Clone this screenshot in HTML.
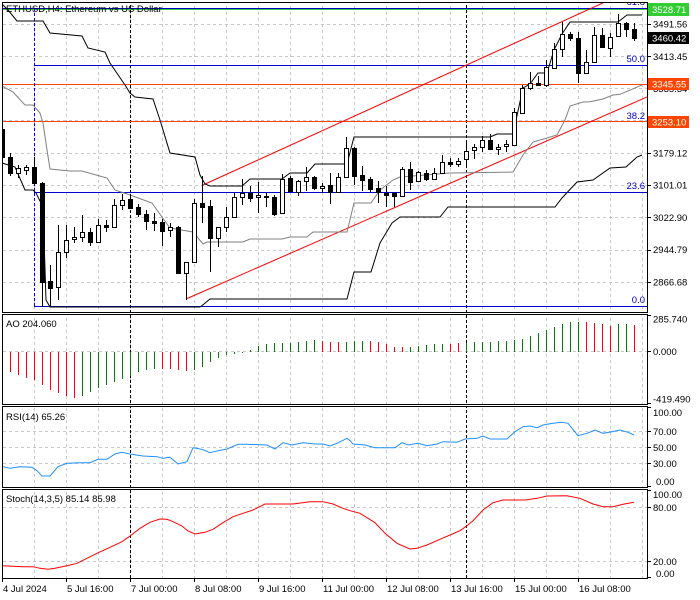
<!DOCTYPE html>
<html><head><meta charset="utf-8"><style>
html,body{margin:0;padding:0;background:#fff;}
svg{display:block;font-family:"Liberation Sans",sans-serif;font-size:9.5px;}
</style></head><body>
<svg width="700" height="600" viewBox="0 0 700 600" xmlns="http://www.w3.org/2000/svg">
<defs>
<clipPath id="cm"><rect x="3" y="3" width="644" height="309"/></clipPath>
<clipPath id="cp"><rect x="3" y="3" width="644" height="309"/><rect x="3" y="315" width="644" height="89"/><rect x="3" y="407" width="644" height="80"/><rect x="3" y="490" width="644" height="88"/></clipPath>
</defs>
<rect width="700" height="600" fill="#fff"/>
<g clip-path="url(#cp)" shape-rendering="crispEdges" fill="none">
<path stroke="#c8c8c8" stroke-dasharray="3,3" d="M34.5 0V600M66.5 0V600M98.5 0V600M130.5 0V600M162.5 0V600M194.5 0V600M226.5 0V600M258.5 0V600M290.5 0V600M322.5 0V600M354.5 0V600M386.5 0V600M418.5 0V600M450.5 0V600M482.5 0V600M514.5 0V600M546.5 0V600M578.5 0V600M610.5 0V600M642.5 0V600"/>
<path stroke="#c8c8c8" stroke-dasharray="3,3" d="M3 24.5H647M3 56.5H647M3 88.5H647M3 120.5H647M3 153.5H647M3 185.5H647M3 217.5H647M3 250.5H647M3 282.5H647M3 351.5H647M3 431.5H647M3 447.5H647M3 463.5H647M3 507.5H647M3 561.5H647"/>
<path stroke="#000" stroke-dasharray="3,2" d="M130.5 0V600M466.5 0V600"/>
</g>
<g clip-path="url(#cm)" fill="none">
<path stroke="#0000cc" stroke-width="1" shape-rendering="crispEdges" d="M2 8.5H647M34 65.5H647M34 121.5H647M34 192.5H647M34 306.5H647"/>
<path stroke="#32cd32" stroke-width="1" shape-rendering="crispEdges" d="M2 9.5H647"/>
<path stroke="#ff4500" stroke-width="1" shape-rendering="crispEdges" d="M2 84.5H647M2 121.5H647"/>
<path stroke="#0000ff" stroke-dasharray="3,2" shape-rendering="crispEdges" d="M34.5 8V306"/>
<path stroke="#ff0000" stroke-width="1" d="M186 299L647 97M203 185L605 2"/>
<polyline stroke="#808080" stroke-width="1" points="2,86 13,92 25,105 33,105 40,113 43,123 47,150 50,169 70,171 82,171 107,178 115,190 130,195 152,203 162,217 170,228 193,232 203,244 207,242 243,242 250,239 282,239 290,237 307,237 313,232 347,232 354,203 371,203 380,190 393,180 400,177 450,173 513,172 523,155 533,142 547,138 557,135 565,120 570,106 583,102 590,101.7 603,99 613,95 620,94.3 638,86.7 642,85"/>
<polyline stroke="#000" stroke-width="1" points="2,4 8,10 17,21 43,21 50,33 82,36 88,48 105,52 110,63 125,85 130,93 135,97 153,99 160,120 170,153 195,157 200,175 205,184 210,186 242,186 250,179 282,179 290,173 307,173 315,164 347,164 354,137 490,137 497,134 513,134 523,88 530,84 538,73 547,73 554,50 562,34 570,22 618,22 627,15 642,15"/>
<polyline stroke="#000" stroke-width="1" points="2,163 15,167 25,190 33,190 36,193 43,207 46,300 50,307 200,307 204,304 210,299 347,299 354,272 371,272 380,243 392,223 400,217 440,217 448,207 555,207 562,198 577,182 593,180 610,168 626,167 637,157 642,155"/>
<g shape-rendering="crispEdges">
<path stroke="#000" d="M2.5 120V160M10.5 153V176M18.5 165V178M26.5 165V175M34.5 157V183M42.5 182V307M50.5 265V307M58.5 225V300M66.5 225V258M74.5 227V243M82.5 215V242M90.5 228V246M98.5 219V242M106.5 220V232M114.5 199V228M122.5 194V210M130.5 194V208M138.5 204V217M146.5 210V230M154.5 213V231M162.5 219V246M170.5 223V237M178.5 226V273M186.5 262V300M194.5 199V262M202.5 176V223M210.5 200V272M218.5 227V247M226.5 207V232M234.5 193V218M242.5 179V205M250.5 186V202M258.5 182V213M266.5 193V207M274.5 195V216M282.5 174V213M290.5 176V191M298.5 180V196M306.5 167V191M314.5 176V190M322.5 183V193M330.5 173V204M338.5 173V192M346.5 137V177M354.5 147V185M362.5 166V191M370.5 177V192M378.5 181V203M386.5 186V207M394.5 192V207M402.5 167V196M410.5 162V190M418.5 171V182M426.5 170V181M434.5 168V180M442.5 155V173M450.5 158V167M458.5 158V167M466.5 140V168M474.5 144V159M482.5 136V152M490.5 134V149M498.5 144V155M506.5 140V152M514.5 108V145M522.5 85V113M530.5 72V90M538.5 76V85M546.5 60V87M554.5 43V68M562.5 22V57M570.5 32V41M578.5 32V83M586.5 50V73M594.5 27V62M602.5 28V48M610.5 33V57M618.5 14V36M626.5 22V37M634.5 23V41"/>
<path fill="#000" stroke="none" d="M0 129h5v29h-5zM8 157h5v17h-5zM32 167h5v17h-5zM40 183h5v100h-5zM48 281h5v8h-5zM88 232h5v11h-5zM104 225h5v3h-5zM128 199h5v10h-5zM136 207h5v8h-5zM144 214h5v8h-5zM152 221h5v3h-5zM160 222h5v10h-5zM176 227h5v47h-5zM200 203h5v5h-5zM208 206h5v33h-5zM248 193h5v6h-5zM264 196h5v2h-5zM272 197h5v18h-5zM288 178h5v14h-5zM312 177h5v12h-5zM328 185h5v8h-5zM352 148h5v29h-5zM360 175h5v6h-5zM368 179h5v11h-5zM376 188h5v5h-5zM384 193h5v3h-5zM392 193h5v4h-5zM408 169h5v14h-5zM424 173h5v7h-5zM448 162h5v3h-5zM488 140h5v10h-5zM536 83h5v3h-5zM568 34h5v5h-5zM576 38h5v36h-5zM600 35h5v13h-5zM624 23h5v7h-5zM632 29h5v10h-5z"/>
<path fill="#fff" stroke="#000" d="M16.5 168.5h4v5h-4zM24.5 167.5h4v3h-4zM56.5 252.5h4v35h-4zM64.5 240.5h4v12h-4zM72.5 237.5h4v2h-4zM80.5 232.5h4v5h-4zM96.5 225.5h4v17h-4zM112.5 205.5h4v22h-4zM120.5 200.5h4v5h-4zM168.5 227.5h4v3h-4zM184.5 262.5h4v11h-4zM192.5 203.5h4v59h-4zM216.5 227.5h4v11h-4zM224.5 217.5h4v10h-4zM232.5 197.5h4v20h-4zM240.5 193.5h4v4h-4zM256.5 195.5h4v2h-4zM280.5 179.5h4v34h-4zM296.5 181.5h4v11h-4zM304.5 177.5h4v4h-4zM320.5 186.5h4v2h-4zM336.5 177.5h4v15h-4zM344.5 148.5h4v29h-4zM400.5 169.5h4v27h-4zM416.5 172.5h4v9h-4zM432.5 173.5h4v6h-4zM440.5 162.5h4v11h-4zM456.5 161.5h4v3h-4zM464.5 151.5h4v8h-4zM472.5 147.5h4v3h-4zM480.5 140.5h4v7h-4zM496.5 147.5h4v2h-4zM504.5 144.5h4v2h-4zM512.5 112.5h4v33h-4zM520.5 88.5h4v25h-4zM528.5 83.5h4v5h-4zM544.5 67.5h4v18h-4zM552.5 49.5h4v19h-4zM560.5 34.5h4v15h-4zM584.5 62.5h4v11h-4zM592.5 35.5h4v27h-4zM608.5 37.5h4v11h-4zM616.5 23.5h4v13h-4z"/>
</g>
<g fill="#0000c8" font-size="9.5" text-anchor="end">
<text x="645" y="5">61.8</text>
<text x="645" y="62">50.0</text>
<text x="645" y="119">38.2</text>
<text x="645" y="189">23.6</text>
<text x="645" y="303">0.0</text>
</g>
<text x="6" y="12" fill="#000">ETHUSD,H4:  Ethereum vs US Dollar</text>
</g>
<g shape-rendering="crispEdges" fill="none">
<path stroke="#ff0000" d="M10.5 352V372M18.5 352V375M26.5 352V378M34.5 352V380M42.5 352V385M50.5 352V390M58.5 352V393M66.5 352V396M74.5 352V398M162.5 352V369M170.5 352V369M178.5 352V370M186.5 352V371M322.5 352V341M330.5 352V342M338.5 352V342M370.5 352V341M378.5 352V342M386.5 352V344M394.5 352V347M402.5 352V347M450.5 352V344M458.5 352V343M586.5 352V322M594.5 352V323M602.5 352V324M610.5 352V326M634.5 352V325"/>
<path stroke="#008000" d="M82.5 352V396M90.5 352V392M98.5 352V388M106.5 352V385M114.5 352V382M122.5 352V379M130.5 352V376M138.5 352V372M146.5 352V370M154.5 352V369M194.5 352V370M202.5 352V367M210.5 352V362M218.5 352V358M226.5 352V355M234.5 352V354M242.5 352V353M250.5 352V350M258.5 352V346M266.5 352V344M274.5 352V343M282.5 352V343M290.5 352V343M298.5 352V342M306.5 352V341M314.5 352V340M346.5 352V342M354.5 352V341M362.5 352V341M410.5 352V347M418.5 352V346M426.5 352V345M434.5 352V344M442.5 352V344M466.5 352V343M474.5 352V342M482.5 352V342M490.5 352V342M498.5 352V341M506.5 352V341M514.5 352V340M522.5 352V339M530.5 352V336M538.5 352V333M546.5 352V330M554.5 352V327M562.5 352V324M570.5 352V322M578.5 352V322M618.5 352V324M626.5 352V324"/>
</g>
<polyline fill="none" stroke="#1e90ff" stroke-width="1" points="3,466.7 10,468.3 20,466.7 32,467.3 37,470.7 42,476 50,476 58,466.7 67,463.3 80,462.7 90,462.7 98,459.3 107,459.3 115,454 122,452.3 130,454 143,456 157,456.7 163,458.3 170,457.3 178,464 187,461.7 193,447.7 202,449.3 210,452.7 218,450.7 227,449 238,444.3 247,444.3 267,445 275,449 283,442.7 292,445 303,442.7 315,444 323,444 330,446 337,443.3 347,438.3 350,440.7 353,444 365,445 375,447.7 395,447.7 402,442.7 408,445 418,443.3 427,445.7 437,444 443,441.7 457,442.3 465,439 477,438.3 483,436 490,439 507,439 515,431.7 523,426.7 530,426 537,427.7 543,425 553,423.3 562,422.3 568,423.3 578,435.7 587,433.3 595,430 603,433.3 612,431.7 620,430 628,432.3 634,435"/>
<polyline fill="none" stroke="#ff0000" stroke-width="1" points="3,565.7 23,566.7 33,566.7 40,568.3 48,569.3 55,568.3 67,565.7 77,563.3 87,558.3 97,553.3 110,547.3 122,541.7 130,536 140,528.3 150,522.3 160,519 167,519.3 173,521.7 182,526 188,531 195,534 205,532.3 213,529.3 223,522.7 233,516.7 243,513.3 253,510 265,504 293,504 310,501.7 323,501.7 333,504 343,508.3 350,510.7 360,513.3 375,522.7 385,533.3 397,543.3 410,549 417,548.3 427,545 440,539.3 450,535 460,530.7 467,525.7 473,520.7 483,510 493,502.7 503,500 525,500 537,498.3 547,496 567,495.7 580,498.3 593,504 603,506.7 613,506.7 623,504.3 634,502.3"/>
<g fill="none" stroke="#000" shape-rendering="crispEdges">
<rect x="2.5" y="2.5" width="645" height="310"/>
<rect x="2.5" y="314.5" width="645" height="90"/>
<rect x="2.5" y="406.5" width="645" height="81"/>
<rect x="2.5" y="489.5" width="645" height="89"/>
<path d="M647 24.5h4M647 56.5h4M647 88.5h4M647 153.5h4M647 185.5h4M647 217.5h4M647 250.5h4M647 282.5h4M647 315.5h4M647 351.5h4M647 403.5h4M647 407.5h4M647 431.5h4M647 447.5h4M647 463.5h4M647 486.5h4M647 490.5h4M647 507.5h4M647 561.5h4M647 577.5h4M2.5 578v4M66.5 578v4M130.5 578v4M194.5 578v4M258.5 578v4M322.5 578v4M386.5 578v4M450.5 578v4M514.5 578v4M578.5 578v4"/>
</g>
<g fill="#000">
<text x="653" y="27.5">3491.56</text>
<text x="653" y="60">3413.45</text>
<text x="653" y="92">3335.34</text>
<text x="653" y="156.5">3179.12</text>
<text x="653" y="188.5">3101.01</text>
<text x="653" y="221">3022.90</text>
<text x="653" y="253">2944.79</text>
<text x="653" y="285.5">2866.68</text>
</g>
<rect x="648" y="3" width="41" height="13" fill="#32cd32"/>
<text x="652" y="13" fill="#fff">3528.71</text>
<rect x="648" y="32" width="41" height="12" fill="#000"/>
<text x="652" y="41.5" fill="#fff">3460.42</text>
<rect x="648" y="78" width="41" height="12" fill="#ff4500"/>
<text x="652" y="87.5" fill="#fff">3345.55</text>
<rect x="648" y="116" width="41" height="12" fill="#ff4500"/>
<text x="652" y="125.5" fill="#fff">3253.10</text>
<g fill="#000">
<text x="653" y="322.5">285.740</text>
<text x="653" y="355">0.000</text>
<text x="653" y="402.5">-419.490</text>
<text x="653" y="416">100.00</text>
<text x="653" y="435">70.00</text>
<text x="653" y="451">50.00</text>
<text x="653" y="467">30.00</text>
<text x="656" y="485">0.00</text>
<text x="653" y="498">100.00</text>
<text x="653" y="511">80.00</text>
<text x="653" y="565">20.00</text>
<text x="656" y="577">0.00</text>
<text x="6" y="327">AO 204.060</text>
<text x="6" y="420">RSI(14) 65.26</text>
<text x="6" y="502">Stoch(14,3,5) 85.14 85.98</text>
<text x="3" y="592">4 Jul 2024</text>
<text x="67" y="592">5 Jul 16:00</text>
<text x="131" y="592">7 Jul 00:00</text>
<text x="195" y="592">8 Jul 08:00</text>
<text x="259" y="592">9 Jul 16:00</text>
<text x="323" y="592">11 Jul 00:00</text>
<text x="387" y="592">12 Jul 08:00</text>
<text x="451" y="592">13 Jul 16:00</text>
<text x="515" y="592">15 Jul 00:00</text>
<text x="579" y="592">16 Jul 08:00</text>
</g>
</svg>
</body></html>
